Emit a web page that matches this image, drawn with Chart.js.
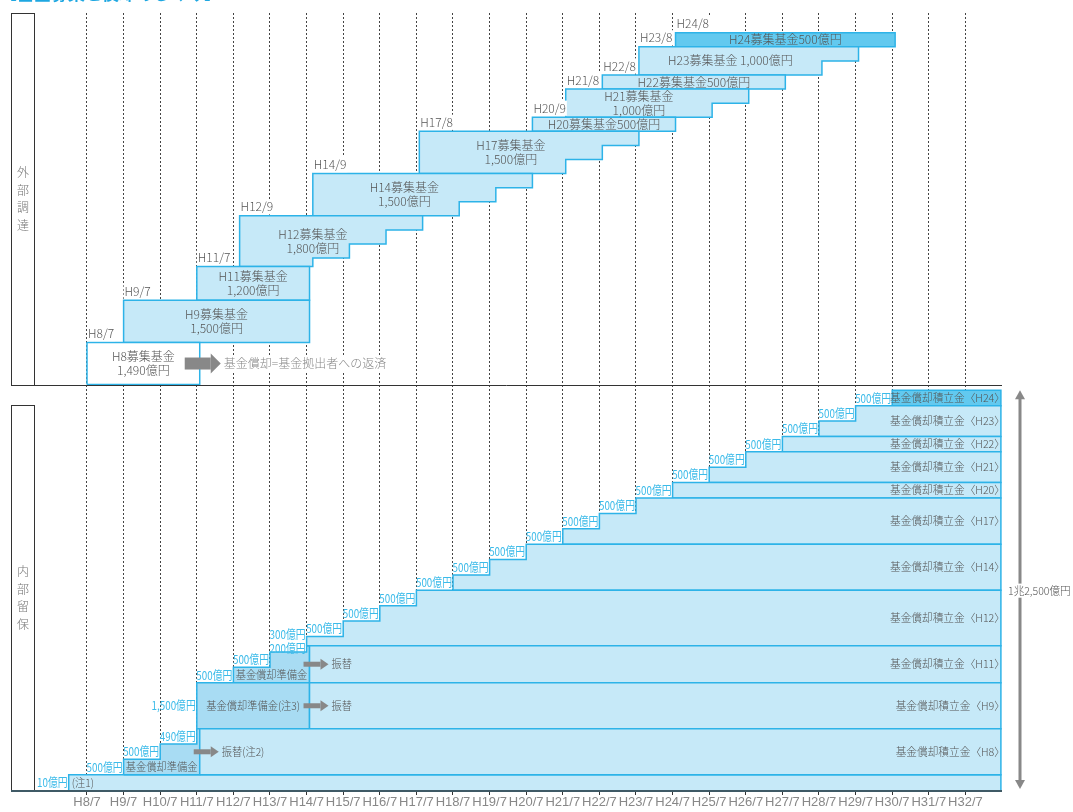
<!DOCTYPE html>
<html lang="ja">
<head>
<meta charset="utf-8">
<title>基金募集と償却のしくみ</title>
<script src="https://cdn.jsdelivr.net/npm/chart.js@4.4.1/dist/chart.umd.min.js"></script>
<style>
  html, body { margin: 0; padding: 0; background: #fff; }
  canvas { display: block; }
</style>
</head>
<body>
<canvas id="grafico" width="1073" height="812"></canvas>
<script>
// 横軸（各年7月）
const tickYears = [8, 9, 10, 11, 12, 13, 14, 15, 16, 17, 18, 19, 20, 21, 22, 23, 24, 25, 26, 27, 28, 29, 30, 31, 32];
const tickLabels = ['H8/7', 'H9/7', 'H10/7', 'H11/7', 'H12/7', 'H13/7', 'H14/7', 'H15/7', 'H16/7', 'H17/7', 'H18/7', 'H19/7',
  'H20/7', 'H21/7', 'H22/7', 'H23/7', 'H24/7', 'H25/7', 'H26/7', 'H27/7', 'H28/7', 'H29/7', 'H30/7', 'H31/7', 'H32/7'];

// 外部調達：募集基金（億円）、募集時期と償却（返済）
const fundNames = ['H8', 'H9', 'H11', 'H12', 'H14', 'H17', 'H20', 'H21', 'H22', 'H23', 'H24'];
const fundDateLabels = ['H8/7', 'H9/7', 'H11/7', 'H12/9', 'H14/9', 'H17/8', 'H20/9', 'H21/8', 'H22/8', 'H23/8', 'H24/8'];
const fundStart = [8, 9, 11, 12.17, 14.17, 17.08, 20.17, 21.08, 22.08, 23.08, 24.08];
const fundAmount = [1490, 1500, 1200, 1800, 1500, 1500, 500, 1000, 500, 1000, 500];
const fundLabels = ['H8募集基金\n1,490億円', 'H9募集基金\n1,500億円', 'H11募集基金\n1,200億円', 'H12募集基金\n1,800億円',
  'H14募集基金\n1,500億円', 'H17募集基金\n1,500億円', 'H20募集基金500億円', 'H21募集基金\n1,000億円',
  'H22募集基金500億円', 'H23募集基金 1,000億円', 'H24募集基金500億円'];
const repayTime = [[11.08], [14.08], [14.08], [14.17, 15.17, 16.17, 17.17], [18.17, 19.17, 20.17], [21.08, 22.08, 23.08],
  [24.08], [25.08, 26.08], [27.08], [28.08, 29.08], [30.08]];
const repayAmount = [[1490], [1500], [1200], [300, 500, 500, 500], [500, 500, 500], [500, 500, 500],
  [500], [500, 500], [500], [500, 500], [500]];

// 内部留保
const note1Time = 7.5;
const note1Amount = 10;
const reserveNames = ['H8', 'H9', 'H11'];           // 基金償却準備金
const reserveTime = [[9, 10, 11], [11], [12, 13, 14]];
const reserveAmount = [[500, 500, 490], [1500], [500, 500, 200]];
const transferTime = [11.08, 14.08, 14.08];
const reserveLabels = ['基金償却準備金', '基金償却準備金(注3)', '基金償却準備金'];
const transferLabels = ['振替(注2)', '振替', '振替'];

const accumNames = ['H8', 'H9', 'H11', 'H12', 'H14', 'H17', 'H20', 'H21', 'H22', 'H23', 'H24'];  // 基金償却積立金
const accumTime = [[11.08], [14.08], [14.08], [14, 15, 16, 17], [18, 19, 20], [21, 22, 23], [24], [25, 26], [27], [28, 29], [30]];
const accumAmount = [[1490], [1500], [1200], [300, 500, 500, 500], [500, 500, 500], [500, 500, 500], [500], [500, 500], [500], [500, 500], [500]];
const totalLabel = '1兆2,500億円';

// 見た目
const CYAN = '#2db3e8';
const FILL = '#c6e9f8';
const FILL_RES = '#a8dcf3';
const FILL_DARK = '#62c9ef';
const GRAY = '#555';
const X_MIN = 5.9235, X_MAX = 33.0, BAND_END = 32.97;
const CJK = '"Noto Sans CJK JP", sans-serif';

const fmt = v => v.toLocaleString('en-US') + '億円';
const datasets = [];
function addPoly(pts, axis, color) {
  pts.push(pts[0]);
  datasets.push({
    data: pts.map(p => ({x: p[0], y: p[1]})),
    yAxisID: axis, fill: 'shape', backgroundColor: color, borderColor: CYAN,
    borderWidth: 1.5, pointRadius: 0, tension: 0
  });
}

// 外部調達の図形
const fundBase = [];
let b = 0;
fundNames.forEach((n, k) => {
  const t = repayTime[k], r = repayAmount[k], top = b + fundAmount[k];
  const cum = [0];
  r.forEach((v, i) => cum.push(cum[i] + v));
  const pts = [[fundStart[k], b], [fundStart[k], top], [t[t.length - 1], top]];
  for (let i = t.length - 1; i >= 1; i--) {
    pts.push([t[i], b + cum[i]]);
    pts.push([t[i - 1], b + cum[i]]);
  }
  pts.push([t[0], b]);
  addPoly(pts, 'yTop', n === 'H8' ? '#fff' : (n === 'H24' ? FILL_DARK : FILL));
  fundBase.push(b);
  b = top;
});

// 内部留保の図形
const stepLabels = [];
const accumBase = {};
let lvl = note1Amount;
accumNames.forEach((n, k) => {
  const t = accumTime[k], a = accumAmount[k];
  accumBase[n] = lvl;
  const pts = [];
  let c = lvl;
  t.forEach((ti, i) => {
    pts.push([ti, c]);
    if (reserveNames.indexOf(n) < 0) stepLabels.push({t: ti, from: c, to: c + a[i], text: fmt(a[i])});
    c += a[i];
    pts.push([ti, c]);
  });
  pts.push([BAND_END, c], [BAND_END, lvl]);
  addPoly(pts, 'yBot', n === 'H24' ? FILL_DARK : FILL);
  lvl = c;
});
reserveNames.forEach((n, k) => {
  const t = reserveTime[k], a = reserveAmount[k], base = accumBase[n];
  const pts = [];
  let c = base;
  t.forEach((ti, i) => {
    pts.push([ti, c]);
    stepLabels.push({t: ti, from: c, to: c + a[i], text: fmt(a[i])});
    c += a[i];
    pts.push([ti, c]);
  });
  pts.push([transferTime[k], c], [transferTime[k], base]);
  addPoly(pts, 'yBot', FILL_RES);
});
addPoly([[note1Time, -519], [note1Time, note1Amount], [BAND_END, note1Amount], [BAND_END, -519]], 'yBot', FILL);

function txt(ctx, s, x, y, o) {
  const size = o.size || 11;
  ctx.save();
  ctx.font = (o.weight || '300') + ' ' + size + 'px ' + (o.family || CJK);
  ctx.fillStyle = o.color || GRAY;
  ctx.textBaseline = o.baseline || 'middle';
  ctx.textAlign = o.align || 'center';
  ctx.translate(x, y);
  ctx.scale(o.sx || 1, 1);
  if (o.bg) {
    const w = ctx.measureText(s).width;
    const x0 = ctx.textAlign === 'left' ? 0 : (ctx.textAlign === 'right' ? -w : -w / 2);
    ctx.fillStyle = o.bg;
    ctx.fillRect(x0 - 1, -size * 0.55 - 1, w + 2, size * 1.1 + 2);
    ctx.fillStyle = o.color || GRAY;
  }
  ctx.fillText(s, 0, 0);
  ctx.restore();
}
function arrow(ctx, x1, x2, y, shaft, head, headLen) {
  ctx.save();
  ctx.fillStyle = '#888';
  ctx.fillRect(x1, y - shaft / 2, x2 - headLen - x1, shaft);
  ctx.beginPath();
  ctx.moveTo(x2 - headLen, y - head / 2);
  ctx.lineTo(x2, y);
  ctx.lineTo(x2 - headLen, y + head / 2);
  ctx.closePath();
  ctx.fill();
  ctx.restore();
}

const diagramText = {
  id: 'diagramText',
  afterDatasetsDraw(chart) {
    const ctx = chart.ctx;
    const {left, right, top, bottom} = chart.chartArea;
    const X = v => chart.scales.x.getPixelForValue(v);
    const YT = v => chart.scales.yTop.getPixelForValue(v);
    const YB = v => chart.scales.yBot.getPixelForValue(v);
    const sep = YT(0);

    // タイトル（上端で切れている）
    txt(ctx, '【基金募集と償却のしくみ】', 0, 0, {size: 17, weight: 'bold', color: '#1ea7e1', align: 'left', baseline: 'alphabetic'});

    // 区切り線・軸線・左の見出し枠
    ctx.save();
    ctx.strokeStyle = '#333';
    ctx.lineWidth = 1;
    ctx.beginPath();
    ctx.moveTo(left, Math.round(sep) + 0.5); ctx.lineTo(right, Math.round(sep) + 0.5);
    ctx.stroke();
    ctx.strokeRect(left + 0.5, top + 0.5, 23, Math.round(sep) - top);
    ctx.strokeRect(left + 0.5, Math.round(sep) + 20.5, 23, bottom - Math.round(sep) - 20);
    ctx.strokeStyle = '#3f5a66';
    ctx.lineWidth = 2;
    ctx.beginPath();
    ctx.moveTo(left, bottom); ctx.lineTo(right, bottom);
    ctx.stroke();
    ctx.restore();
    const cTop = (top + sep) / 2, cBot = (sep + 20 + bottom) / 2;
    ['外', '部', '調', '達'].forEach((c, i) => txt(ctx, c, left + 12, cTop + (i - 1.5) * 17.5, {size: 12, color: '#777'}));
    ['内', '部', '留', '保'].forEach((c, i) => txt(ctx, c, left + 12, cBot + (i - 1.5) * 17.5, {size: 12, color: '#777'}));

    // 募集基金のラベル
    fundNames.forEach((n, k) => {
      const t = repayTime[k];
      const xEnd = t.length > 1 ? t[t.length - 2] : t[0];
      const xc = X((fundStart[k] + xEnd) / 2);
      const yc = YT(fundBase[k] + fundAmount[k] / 2);
      const lines = fundLabels[k].split('\n');
      lines.forEach((s, i) => txt(ctx, s, xc, yc + (i - (lines.length - 1) / 2) * 14, {size: 12}));
      txt(ctx, fundDateLabels[k], X(fundStart[k]) + 1, YT(fundBase[k] + fundAmount[k]) - 9, {size: 12, align: 'left', bg: '#fff'});
    });
    const ay = YT(fundAmount[0] / 2);
    const ax = X(repayTime[0][0]) - 15;
    arrow(ctx, ax, ax + 36, ay, 12, 20, 10);
    txt(ctx, '基金償却=基金拠出者への返済', ax + 39, ay, {size: 12, color: '#888', align: 'left', bg: '#fff'});

    // 積み増し額（水色）
    const labs = stepLabels.map(s => ({x: X(s.t) - 1, y: (YB(s.from) + YB(s.to)) / 2, text: s.text}));
    labs.sort((p, q) => p.x - q.x || q.y - p.y);
    for (let i = 1; i < labs.length; i++) {
      const p = labs[i - 1], q = labs[i];
      if (Math.abs(p.x - q.x) < 1 && p.y - q.y < 14) q.y = p.y - 14;
    }
    labs.forEach(l => txt(ctx, l.text, l.x, l.y, {size: 12, color: '#3cbbe9', align: 'right', sx: 0.82, weight: 'normal'}));
    txt(ctx, fmt(note1Amount), X(note1Time) - 1, (YB(note1Amount) + bottom) / 2, {size: 12, color: '#3cbbe9', align: 'right', sx: 0.82, weight: 'normal'});
    txt(ctx, '(注1)', X(note1Time) + 3, (YB(note1Amount) + bottom) / 2, {size: 11, align: 'left', sx: 0.93});

    // 基金償却準備金と振替
    reserveNames.forEach((n, k) => {
      const base = accumBase[n];
      const xc = X((reserveTime[k][0] + transferTime[k]) / 2);
      txt(ctx, reserveLabels[k], xc, YB(base + reserveAmount[k][0] / 2), {size: 11, sx: 0.93});
      const total = reserveAmount[k].reduce((s, v) => s + v, 0);
      const y = YB(base + total / 2);
      const x0 = X(transferTime[k]) - 6;
      arrow(ctx, x0, x0 + 25, y, 5, 11, 8);
      txt(ctx, transferLabels[k], x0 + 28, y, {size: 11, align: 'left', sx: 0.93});
    });

    // 基金償却積立金のラベル
    accumNames.forEach((n, k) => {
      const tot = accumAmount[k].reduce((s, v) => s + v, 0);
      txt(ctx, '基金償却積立金〈' + n + '〉', right + 3, YB(accumBase[n] + tot / 2), {size: 11, align: 'right', sx: 0.97});
    });

    // 合計の両矢印
    const yTopA = YB(lvl), xA = right + 18;
    ctx.save();
    ctx.fillStyle = '#888';
    ctx.fillRect(xA - 1.5, yTopA + 6, 3, bottom - yTopA - 12);
    ctx.beginPath();
    ctx.moveTo(xA - 5, yTopA + 9); ctx.lineTo(xA, yTopA); ctx.lineTo(xA + 5, yTopA + 9); ctx.closePath(); ctx.fill();
    ctx.beginPath();
    ctx.moveTo(xA - 5, bottom - 11); ctx.lineTo(xA, bottom - 2); ctx.lineTo(xA + 5, bottom - 11); ctx.closePath(); ctx.fill();
    ctx.restore();
    txt(ctx, totalLabel, right + 6, (yTopA + bottom) / 2, {size: 11, align: 'left', bg: '#fff', sx: 0.96});
  }
};

Chart.defaults.font.family = CJK;
new Chart(document.getElementById('grafico'), {
  type: 'line',
  data: {datasets: datasets},
  options: {
    responsive: false,
    animation: false,
    events: [],
    layout: {padding: {left: 11, right: 71, top: 13, bottom: 2}},
    plugins: {legend: {display: false}, tooltip: {enabled: false}},
    scales: {
      x: {
        type: 'linear', min: X_MIN, max: X_MAX,
        afterBuildTicks: ax => { ax.ticks = tickYears.map(v => ({value: v})); },
        ticks: {
          callback: (v, i) => tickLabels[i], autoSkip: false, maxRotation: 0, padding: 1, color: '#888',
          font: {family: '"Liberation Sans Narrow", "Liberation Sans", sans-serif', size: 13, lineHeight: 1}
        },
        grid: {color: '#444', lineWidth: 1, tickLength: 4, tickColor: '#333'},
        border: {display: false, dash: [2, 2]}
      },
      yTop: {type: 'linear', display: false, min: -14433, max: 13191},
      yBot: {type: 'linear', display: false, min: -519, max: 24757}
    }
  },
  plugins: [diagramText]
});
</script>
</body>
</html>
